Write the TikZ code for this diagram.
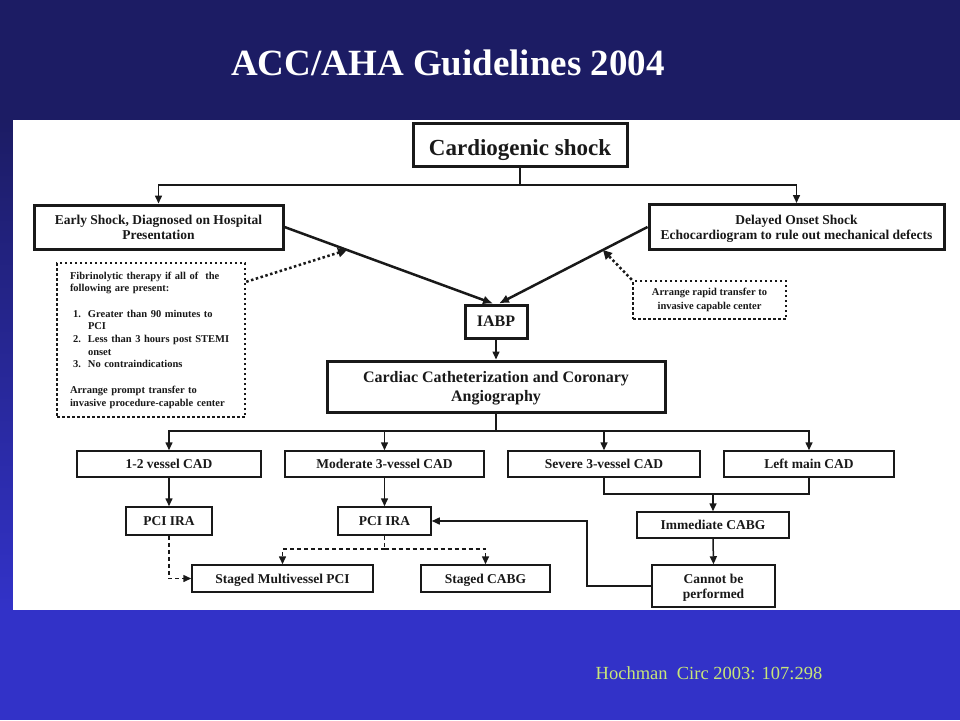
\documentclass[tikz,border=0pt]{standalone}
\usepackage{fontspec}
\setmainfont{Liberation Serif}
\usetikzlibrary{arrows.meta,calc}
\definecolor{bleuhaut}{RGB}{28,28,100}
\definecolor{bleubas}{RGB}{50,50,200}
\definecolor{vertcitation}{RGB}{200,230,120}
\definecolor{encre}{RGB}{25,25,25}
\begin{document}
\begin{tikzpicture}[x=1pt,y=-1pt]
		\tikzstyle{boite}=[draw=encre,line width=1.5pt,fill=white,inner sep=0pt,align=center,text=encre,font=\bfseries\fontsize{13.5}{15}\selectfont]
		\tikzstyle{uneligne}=[boite,text depth=0pt]
		\tikzstyle{boiteepaisse}=[boite,line width=3pt]
		\tikzstyle{cadrepointille}=[boite,line width=2.5pt,dash pattern=on 2.5pt off 2.5pt,font=\bfseries\fontsize{10.5}{12.7}\selectfont]
		\tikzstyle{trait}=[draw=encre,line width=1.5pt]
		\tikzstyle{fleche}=[trait,-{Triangle[length=8pt,width=7pt]}]
		\tikzstyle{flecheepaisse}=[trait,line width=2.5pt,-{Latex[length=10pt,width=9pt]}]
		\tikzstyle{flechepointillee}=[trait,line width=2.5pt,dash pattern=on 2.5pt off 2.5pt,-{Triangle[length=9pt,width=9pt]}]
		\tikzstyle{tirets}=[trait,dash pattern=on 4pt off 3pt]
		\tikzstyle{flechetirets}=[tirets,-{Triangle[length=8pt,width=7pt]}]
		\def\Puce#1{\makebox[18pt][l]{\hspace*{3pt}#1}}
		\def\Retrait{\hspace*{18pt}}
		\def\NiveauA{144.5}
		\def\NiveauB{227}
		\def\NiveauC{464}
		\def\NiveauD{521}
		\def\NiveauE{578.5}
		\useasboundingbox (0,0) rectangle (960,720);
		\fill[bleuhaut] (0,0) rectangle (960,120);
		\shade[top color=bleuhaut,bottom color=bleubas] (0,120) rectangle (960,610);
		\fill[bleubas] (0,610) rectangle (960,720);
		\fill[white] (12.5,120) rectangle (960,610);
		\node[text=white,font=\bfseries\fontsize{37}{40}\selectfont] (titre) at (448,63) {ACC/AHA Guidelines 2004};
		\node[text=vertcitation,font=\fontsize{18.5}{20}\selectfont] (source) at (709,673) {Hochman~ Circ 2003: 107:298};
		\node[boiteepaisse,font=\bfseries\fontsize{23}{26}\selectfont,text height=21pt,text depth=0pt,minimum width=214,minimum height=43] (choc) at (520,\NiveauA) {Cardiogenic shock};
		\node[boiteepaisse,text depth=-2pt,minimum width=249,minimum height=44] (precoce) at (158.5,\NiveauB) {Early Shock, Diagnosed on Hospital\\Presentation};
		\node[boiteepaisse,text depth=-2pt,minimum width=295,minimum height=45] (retarde) at (796.5,\NiveauB) {Delayed Onset Shock\\Echocardiogram to rule out mechanical defects};
		\node[cadrepointille,align=left,text width=162,inner xsep=13pt,minimum height=154] (fibrino) at (151,340) {Fibrinolytic therapy if all of~ the\\following are present:\\[12.7pt]\Puce{1.}Greater than 90 minutes to\\\Retrait PCI\\\Puce{2.}Less than 3 hours post STEMI\\\Retrait onset\\\Puce{3.}No contraindications\\[12.7pt]Arrange prompt transfer to\\invasive procedure-capable center};
		\node[cadrepointille,minimum width=153,minimum height=38,font=\bfseries\fontsize{10.5}{13.5}\selectfont] (transfert) at (709.5,300) {Arrange rapid transfer to\\invasive capable center};
		\node[boiteepaisse,text depth=0pt,font=\bfseries\fontsize{16}{18}\selectfont,minimum width=62,minimum height=33] (iabp) at (496,321.5) {IABP};
		\node[boiteepaisse,font=\bfseries\fontsize{16}{19.5}\selectfont,text depth=-2.5pt,minimum width=338,minimum height=51] (cath) at (496,386.5) {Cardiac Catheterization and Coronary\\Angiography};
		\node[uneligne,minimum width=184,minimum height=26] (v12) at (169,\NiveauC) {1-2 vessel CAD};
		\node[uneligne,minimum width=199,minimum height=26] (mod) at (384.5,\NiveauC) {Moderate 3-vessel CAD};
		\node[uneligne,minimum width=192,minimum height=26] (sev) at (604,\NiveauC) {Severe 3-vessel CAD};
		\node[uneligne,minimum width=170,minimum height=26] (lm) at (809,\NiveauC) {Left main CAD};
		\node[uneligne,minimum width=86,minimum height=28] (pciA) at (169,\NiveauD) {PCI IRA};
		\node[uneligne,minimum width=93,minimum height=28] (pciB) at (384.5,\NiveauD) {PCI IRA};
		\node[uneligne,minimum width=152,minimum height=26] (icabg) at (713,525) {Immediate CABG};
		\node[uneligne,minimum width=181,minimum height=27] (smv) at (282.5,\NiveauE) {Staged Multivessel PCI};
		\node[uneligne,minimum width=129,minimum height=27] (scabg) at (485.5,\NiveauE) {Staged CABG};
		\node[boite,text depth=-1pt,minimum width=123,minimum height=42] (cannot) at (713.5,586) {Cannot be\\performed};
		\coordinate (jonctionChoc) at (520,185);
		\coordinate (repereA) at ($(precoce.east)!0.3!([xshift=-3pt]iabp.north)$);
		\coordinate (repereB) at ($(retarde.west)!0.3!([xshift=3pt]iabp.north)$);
		\coordinate (jonctionCath) at (496,431);
		\coordinate (jonctionPci) at (384.5,549);
		\coordinate (jonctionSev) at (713,494);
		\coordinate (retour) at (587,521);
		\draw[trait] (choc.south)--(jonctionChoc);
		\draw[fleche] (jonctionChoc)-|(precoce.north);
		\draw[fleche] (jonctionChoc)-|(retarde.north);
		\draw[flecheepaisse] (precoce.east)--([xshift=-3pt]iabp.north);
		\draw[flecheepaisse] (retarde.west)--([xshift=3pt]iabp.north);
		\draw[flechepointillee] ([yshift=-20pt]fibrino.north east)--(repereA);
		\draw[flechepointillee] (transfert.north west)--(repereB);
		\draw[fleche] (iabp.south)--(cath.north);
		\draw[trait] (cath.south)--(jonctionCath);
		\draw[fleche] (jonctionCath)-|(v12.north);
		\draw[fleche] (jonctionCath)-|(mod.north);
		\draw[fleche] (jonctionCath)-|(sev.north);
		\draw[fleche] (jonctionCath)-|(lm.north);
		\draw[fleche] (v12.south)--(pciA.north);
		\draw[fleche] (mod.south)--(pciB.north);
		\draw[flechetirets] (pciA.south)|-(smv.west);
		\draw[tirets] (pciB.south)--(jonctionPci);
		\draw[flechetirets] (jonctionPci)-|(smv.north);
		\draw[flechetirets] (jonctionPci)-|(scabg.north);
		\draw[trait] (sev.south)|-(jonctionSev)-|(lm.south);
		\draw[fleche] (jonctionSev)--(icabg.north);
		\draw[fleche] (icabg.south)--(cannot.north);
		\draw[fleche] (cannot.west)-|(retour)--(pciB.east);
	\end{tikzpicture}
\end{document}
